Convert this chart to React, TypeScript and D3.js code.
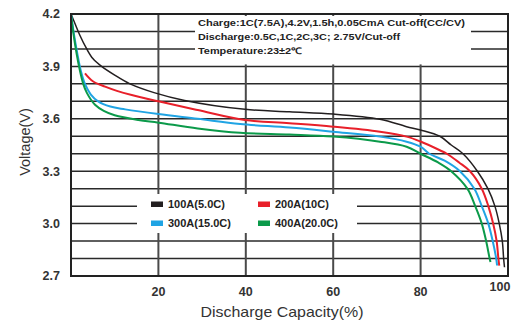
import * as d3 from 'd3';

// discharge capacity (%) vs voltage (V)
const curve100A: [number, number][] = [
  [0, 4.2], [1, 4.14], [2, 4.08], [3.6, 4.0], [5, 3.945], [7, 3.9], [10, 3.85],
  [13.5, 3.8], [19, 3.75], [26, 3.705], [39.8, 3.654], [50, 3.64], [60, 3.627],
  [70.7, 3.597], [76.8, 3.555], [80, 3.536], [84.4, 3.5], [87, 3.45], [89.7, 3.4],
  [93, 3.3], [95.4, 3.2], [97, 3.1], [98, 3.0], [98.7, 2.9], [99, 2.8], [99.2, 2.75],
];
const curve200A: [number, number][] = [
  [3.2, 3.86], [5, 3.815], [7.8, 3.784], [10.5, 3.76], [13.9, 3.736], [20, 3.7],
  [29, 3.65], [39.8, 3.593], [50, 3.575], [60, 3.555], [70.7, 3.526], [76.8, 3.498],
  [80, 3.47], [84.4, 3.42], [86, 3.4], [88.8, 3.35], [91.3, 3.3], [94, 3.2],
  [95.5, 3.1], [96.6, 3.0], [97.4, 2.9], [97.8, 2.8], [98, 2.76],
];
const curve300A: [number, number][] = [
  [0, 4.2], [0.7, 4.08], [1.4, 3.98], [2.2, 3.88], [3.2, 3.8], [4.5, 3.74], [6.2, 3.7],
  [9, 3.67], [12.4, 3.654], [20, 3.627], [29, 3.6], [38.7, 3.57], [50, 3.55],
  [60, 3.526], [70.7, 3.498], [76.8, 3.469], [80, 3.44], [82, 3.4], [85.5, 3.36],
  [89, 3.3], [92.3, 3.2], [94, 3.1], [95.5, 3.0], [96.5, 2.9], [97.3, 2.8], [97.5, 2.76],
];
const curve400A: [number, number][] = [
  [0, 4.2], [0.6, 4.08], [1.3, 3.97], [2, 3.88], [2.8, 3.8], [3.6, 3.75], [5.5, 3.68],
  [7.5, 3.645], [10, 3.62], [15.4, 3.593], [20, 3.578], [29, 3.545], [38.7, 3.52],
  [50, 3.51], [60, 3.498], [70.7, 3.469], [76.8, 3.44], [80, 3.4], [84, 3.35],
  [87, 3.3], [90.7, 3.2], [92.5, 3.1], [94, 3.0], [95, 2.9], [95.8, 2.8], [96, 2.78],
];

const seriesNames = ['100A(5.0C)', '200A(10C)', '300A(15.0C)', '400A(20.0C)'];
const seriesColors = ['#231f20', '#e8202a', '#20a4e4', '#0b9a4a'];
const xTicks = [20, 40, 60, 80, 100];
const yTicks = [4.2, 3.9, 3.6, 3.3, 3.0, 2.7];
const noteLines = [
  'Charge:1C(7.5A),4.2V,1.5h,0.05CmA Cut-off(CC/CV)',
  'Discharge:0.5C,1C,2C,3C; 2.75V/Cut-off',
  'Temperature:23±2℃',
];

const W = 517;
const H = 322;
const margin = { top: 14, right: 9, bottom: 46, left: 71 };

export default function App() {
  const x = d3.scaleLinear().domain([0, 100]).range([margin.left, W - margin.right]);
  const y = d3.scaleLinear().domain([2.7, 4.2]).range([H - margin.bottom, margin.top]);
  const line = d3
    .line<[number, number]>()
    .x(d => x(d[0]))
    .y(d => y(d[1]))
    .curve(d3.curveCatmullRom.alpha(0.5));

  const series = [curve100A, curve200A, curve300A, curve400A];
  const hGrid = d3.range(1, 15).map(i => 2.7 + i * 0.1);
  const font = '"Liberation Sans", Arial, sans-serif';

  return (
    <svg
      width={W}
      height={H}
      style={{ position: 'absolute', left: 0, top: 0, background: '#fff' }}
      fontFamily={font}
    >
      {/* grid */}
      {hGrid.map(v => (
        <line key={'h' + v} x1={x(0)} x2={x(100)} y1={y(v)} y2={y(v)} stroke="#2a2a2a" strokeWidth={1.5} />
      ))}
      {xTicks.slice(0, 4).map(v => (
        <line key={'v' + v} x1={x(v)} x2={x(v)} y1={y(4.2)} y2={y(2.7)} stroke="#4a4a4a" strokeWidth={2} />
      ))}

      {/* annotation box */}
      <rect x={195} y={y(4.2) + 2} width={276} height={y(3.9) - y(4.2) - 4} fill="#fff" />
      {noteLines.map((t, i) => (
        <text
          key={t}
          x={198}
          y={23 + i * 14}
          dy="0.35em"
          fontSize={9}
          fontWeight="bold"
          fill="#222"
          textLength={[267, 202, 104][i]}
          lengthAdjust="spacingAndGlyphs"
        >
          {t}
        </text>
      ))}

      {/* legend box */}
      <rect x={137} y={194} width={220} height={39} fill="#fff" />
      {seriesNames.map((name, i) => {
        const col = i % 2 === 0 ? 0 : 1;
        const row = i < 2 ? 0 : 1;
        const lx = 151 + col * 107;
        const ly = 204 + row * 19;
        return (
          <g key={name}>
            <rect x={lx} y={ly - 2.5} width={12} height={5.5} fill={seriesColors[i]} />
            <text x={lx + 17} y={ly} dy="0.35em" fontSize={11} fontWeight="bold" fill="#222">
              {name}
            </text>
          </g>
        );
      })}

      {/* curves */}
      {series.map((s, i) => (
        <path
          key={seriesNames[i]}
          d={line(s) ?? ''}
          fill="none"
          stroke={seriesColors[i]}
          strokeWidth={i === 0 ? 1.5 : 2}
        />
      ))}

      {/* frame */}
      <rect
        x={x(0)}
        y={y(4.2)}
        width={x(100) - x(0)}
        height={y(2.7) - y(4.2)}
        fill="none"
        stroke="#222"
        strokeWidth={2}
      />

      {/* y ticks */}
      {yTicks.map(v => (
        <text key={'yt' + v} x={60} y={y(v)} dy="0.35em" textAnchor="end" fontSize={12.5} fontWeight="bold" fill="#333">
          {d3.format('.1f')(v)}
        </text>
      ))}
      <text
        transform={`translate(25,${142}) rotate(-90)`}
        textAnchor="middle"
        dy="0.35em"
        fontSize={14.5}
        fill="#333"
      >
        Voltage(V)
      </text>

      {/* x ticks */}
      {xTicks.map(v => (
        <text
          key={'xt' + v}
          x={x(v) - (v === 100 ? 8 : 0)}
          y={292 - (v === 100 ? 5 : 0)}
          dy="0.35em"
          textAnchor="middle"
          fontSize={12.5}
          fontWeight="bold"
          fill="#333"
        >
          {v}
        </text>
      ))}
      <text
        x={282}
        y={312}
        dy="0.35em"
        textAnchor="middle"
        fontSize={15}
        fill="#333"
        textLength={163}
        lengthAdjust="spacingAndGlyphs"
      >
        Discharge Capacity(%)
      </text>
    </svg>
  );
}
